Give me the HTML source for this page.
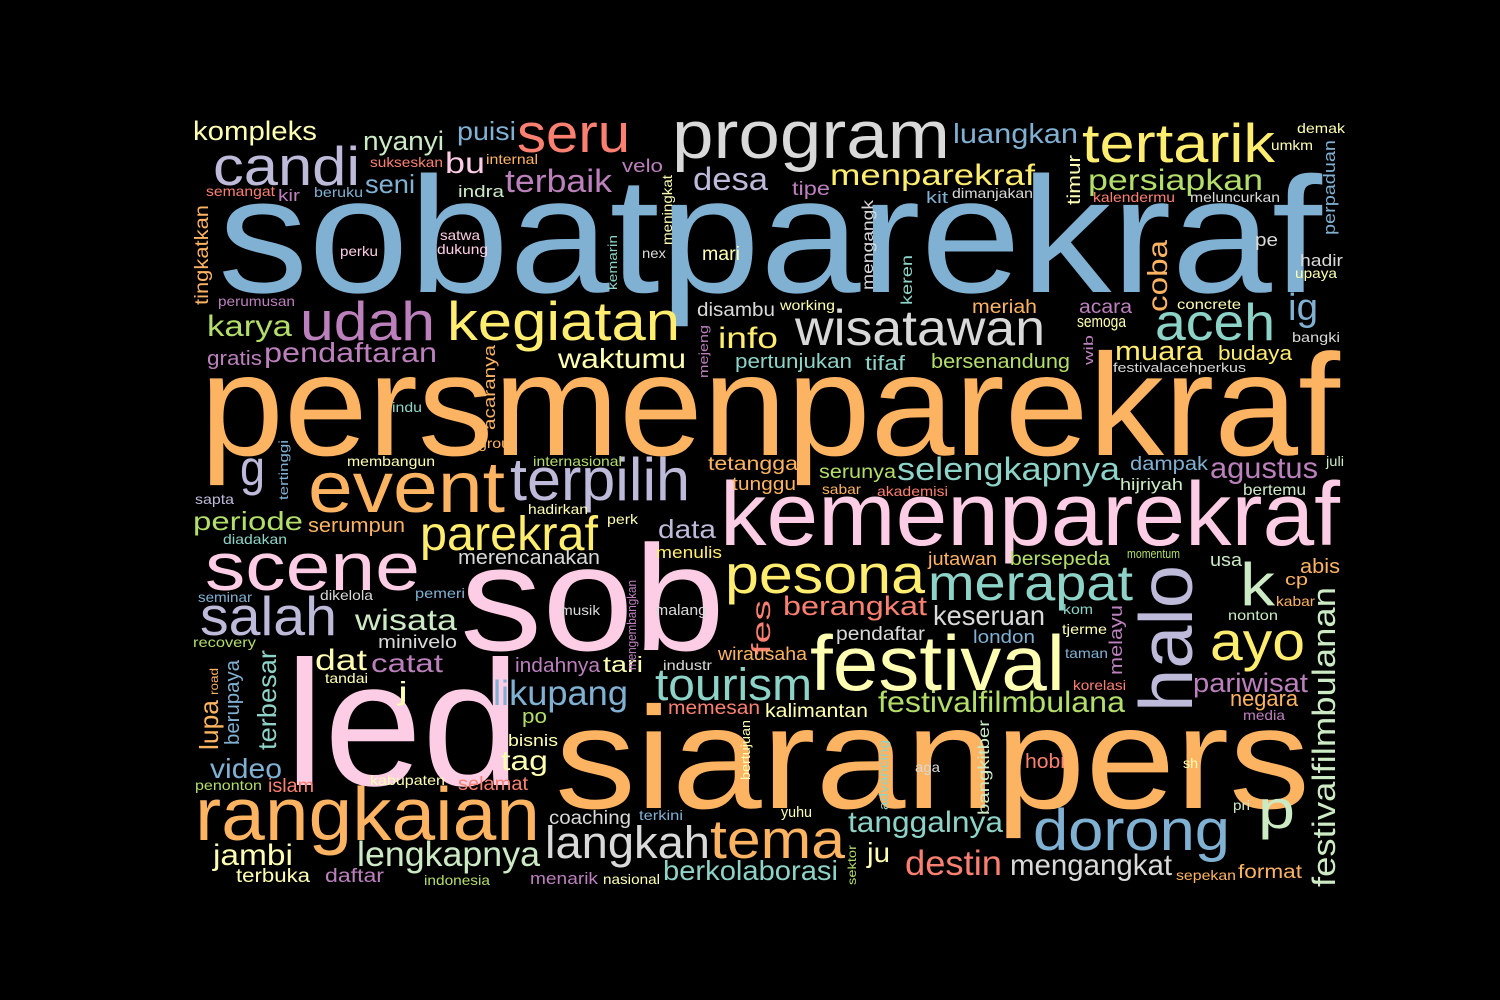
<!DOCTYPE html>
<html><head><meta charset="utf-8"><style>
html,body{margin:0;padding:0;background:#000;}
svg{display:block;}
text{font-family:"Liberation Sans",sans-serif;}
</style></head><body>
<svg id="cloud" width="1500" height="1000" viewBox="0 0 1500 1000" xmlns="http://www.w3.org/2000/svg">
<rect width="1500" height="1000" fill="#000"/>
</svg>
<script>
const C={B:"#80b1d3",O:"#fdb462",P:"#fccde5",U:"#bc80bd",Y:"#ffffb3",G:"#b3de69",T:"#8dd3c7",R:"#fb8072",L:"#bebada",W:"#d9d9d9",LG:"#ccebc5",GD:"#ffed6f"};
// [text, x, baseline y, font size, length, colour, rotated]
const words=[
["sobatparekraf",218,292,165,1104,"B",0],
["persmenparekraf",200,455,145,1140,"O",0],
["siaranpers",555,808,145,755,"O",0],
["led",285,785,178,235,"P",0],
["sob",460,650,150,265,"P",0],
["kemenparekraf",720,545,90,620,"P",0],
["festival",810,690,78,255,"Y",0],
["rangkaian",195,840,75,345,"O",0],
["program",672,158,68,278,"W",0],
["event",308,512,72,197,"O",0],
["terpilih",510,500,60,180,"L",0],
["scene",205,590,68,215,"P",0],
["halo",1192,712,75,147,"L",1],
["dorong",1033,850,58,197,"B",0],
["tertarik",1082,162,55,193,"GD",0],
["candi",213,185,55,147,"L",0],
["kegiatan",447,340,55,233,"GD",0],
["udah",300,340,55,135,"U",0],
["wisatawan",795,345,50,250,"W",0],
["aceh",1155,340,52,120,"T",0],
["seru",517,152,55,113,"R",0],
["merapat",928,600,50,205,"T",0],
["pesona",725,593,55,200,"GD",0],
["parekraf",420,550,48,178,"GD",0],
["salah",200,635,55,137,"L",0],
["tourism",655,700,45,157,"T",0],
["tema",710,858,55,135,"O",0],
["langkah",545,858,45,165,"W",0],
["lengkapnya",357,866,35,183,"LG",0],
["ayo",1210,660,55,95,"GD",0],
["k",1240,605,60,35,"LG",0],
["p",1258,828,55,37,"LG",0],
["festivalfilmbulanan",1335,887,32,300,"LG",1],
["g",240,485,50,25,"L",0],
["ig",1288,320,38,30,"B",0],
["coba",1167,312,28,72,"O",1],
["lupa",218,750,26,50,"O",1],
["terbesar",276,750,26,100,"T",1],
["berupaya",239,745,20,85,"B",1],
["likupang",493,705,35,135,"B",0],
["jambi",213,865,30,80,"Y",0],
["video",210,778,28,72,"B",0],
["destin",905,875,35,97,"R",0],
["mengangkat",1010,875,30,162,"W",0],
["berkolaborasi",663,880,28,175,"T",0],
["tanggalnya",848,832,30,155,"T",0],
["festivalfilmbulana",878,712,30,247,"G",0],
["keseruan",933,625,28,112,"W",0],
["selengkapnya",897,480,32,223,"T",0],
["agustus",1210,478,30,108,"U",0],
["pariwisat",1193,692,27,115,"U",0],
["negara",1230,706,22,68,"O",0],
["persiapkan",1088,190,30,175,"G",0],
["menparekraf",830,185,30,205,"GD",0],
["luangkan",953,143,28,125,"B",0],
["desa",693,190,32,75,"L",0],
["terbaik",505,192,32,107,"U",0],
["puisi",457,140,26,59,"B",0],
["nyanyi",363,150,27,81,"LG",0],
["kompleks",193,140,27,124,"Y",0],
["seni",365,193,26,50,"B",0],
["bu",445,173,30,40,"P",0],
["karya",207,336,30,85,"G",0],
["pendaftaran",264,362,28,173,"U",0],
["gratis",207,365,20,55,"U",0],
["waktumu",558,368,28,128,"Y",0],
["info",718,348,30,60,"GD",0],
["pertunjukan",735,368,20,117,"T",0],
["tifaf",865,370,20,40,"T",0],
["bersenandung",931,368,20,139,"G",0],
["muara",1115,360,27,88,"GD",0],
["budaya",1218,360,20,74,"GD",0],
["periode",193,530,26,110,"G",0],
["serumpun",308,532,20,97,"O",0],
["data",658,538,26,58,"L",0],
["menulis",656,558,17,66,"GD",0],
["merencanakan",458,564,20,142,"W",0],
["wisata",355,630,30,102,"LG",0],
["minivelo",378,648,18,79,"W",0],
["catat",371,672,26,72,"U",0],
["dat",315,670,30,52,"Y",0],
["tari",603,672,22,40,"Y",0],
["indahnya",515,672,20,85,"U",0],
["berangkat",783,615,27,144,"R",0],
["fes",770,655,26,55,"R",1],
["pendaftar",836,640,19,89,"W",0],
["wirausaha",718,660,18,89,"O",0],
["memesan",668,714,19,92,"R",0],
["kalimantan",765,717,19,103,"Y",0],
["tag",501,770,28,47,"Y",0],
["bisnis",508,746,17,50,"Y",0],
["po",522,723,20,25,"G",0],
["selamat",458,790,19,70,"R",0],
["j",398,700,26,10,"Y",0],
["islam",268,792,19,46,"R",0],
["penonton",195,790,14,67,"G",0],
["kabupaten",370,785,14,75,"Y",0],
["coaching",549,824,19,82,"W",0],
["terkini",639,820,14,44,"B",0],
["yuhu",781,817,15,31,"Y",0],
["ju",867,862,28,23,"Y",0],
["hobi",1025,768,20,40,"R",0],
["daftar",325,882,19,59,"U",0],
["terbuka",236,882,19,74,"Y",0],
["indonesia",424,885,14,66,"G",0],
["menarik",530,884,17,68,"U",0],
["nasional",603,884,14,57,"Y",0],
["sepekan",1176,880,14,60,"O",0],
["format",1238,878,19,64,"O",0],
["tetangga",708,470,19,90,"O",0],
["tunggu",732,490,18,64,"O",0],
["serunya",819,478,19,77,"G",0],
["sabar",822,494,14,39,"O",0],
["akademisi",877,496,14,71,"R",0],
["dampak",1130,470,19,78,"B",0],
["hijriyah",1120,490,17,63,"LG",0],
["bertemu",1243,495,16,63,"LG",0],
["juli",1326,466,14,18,"LG",0],
["jutawan",928,565,18,69,"O",0],
["bersepeda",1010,565,19,100,"G",0],
["momentum",1127,558,13,53,"G",0],
["usa",1210,566,18,32,"LG",0],
["abis",1300,573,20,40,"O",0],
["cp",1285,585,17,23,"O",0],
["kabar",1276,606,14,39,"O",0],
["nonton",1228,620,14,50,"LG",0],
["london",973,643,18,62,"B",0],
["kom",1063,614,14,30,"T",0],
["tjerme",1062,634,14,45,"Y",0],
["taman",1065,658,14,43,"B",0],
["korelasi",1073,690,14,53,"R",0],
["melayu",1122,675,18,70,"U",1],
["media",1243,720,14,42,"U",0],
["pri",1233,810,14,17,"LG",0],
["sh",1183,768,14,15,"Y",0],
["bangkitber",989,815,16,95,"LG",1],
["bertujuan",750,780,13,60,"Y",1],
["advancing",888,810,13,70,"T",1],
["sektor",856,885,12,40,"G",1],
["aga",915,772,14,25,"W",0],
["mengembangkan",636,670,13,90,"U",1],
["industr",663,670,14,49,"W",0],
["musik",560,615,14,40,"W",0],
["malang",655,615,15,52,"W",0],
["pemeri",415,598,14,50,"B",0],
["dikelola",320,600,14,53,"W",0],
["seminar",198,602,14,54,"B",0],
["recovery",193,647,14,63,"G",0],
["tandai",325,683,14,43,"Y",0],
["road",218,695,12,27,"O",1],
["diadakan",223,544,14,64,"T",0],
["hadirkan",528,514,14,60,"Y",0],
["perk",607,524,14,31,"Y",0],
["sapta",195,504,14,39,"L",0],
["tertinggi",288,500,13,60,"B",1],
["membangun",347,466,14,88,"Y",0],
["internasional",533,466,14,89,"G",0],
["grou",478,448,14,32,"O",0],
["acaranya",495,430,17,85,"O",1],
["indu",392,412,14,30,"T",0],
["mejeng",708,378,13,53,"U",1],
["disambu",697,316,19,78,"W",0],
["working",780,310,14,55,"Y",0],
["meriah",972,313,19,65,"O",0],
["acara",1079,313,19,53,"U",0],
["semoga",1077,327,17,49,"Y",0],
["concrete",1177,309,14,64,"Y",0],
["bangki",1292,342,14,48,"W",0],
["wib",1093,365,13,30,"U",1],
["festivalacehperkus",1113,372,13,133,"W",0],
["perumusan",218,306,14,77,"U",0],
["tingkatkan",208,305,19,100,"O",1],
["semangat",206,196,14,69,"R",0],
["kir",278,201,17,22,"U",0],
["beruku",314,197,14,49,"B",0],
["sukseskan",370,167,14,73,"R",0],
["internal",486,164,14,52,"O",0],
["indra",458,197,17,46,"LG",0],
["velo",622,172,18,41,"U",0],
["meningkat",672,245,14,70,"Y",1],
["tipe",792,195,19,38,"U",0],
["kit",926,203,17,22,"B",0],
["dimanjakan",952,198,14,81,"W",0],
["timur",1080,205,18,50,"Y",1],
["kalendermu",1093,202,14,82,"R",0],
["meluncurkan",1190,202,14,90,"W",0],
["demak",1297,133,14,48,"Y",0],
["umkm",1271,150,14,42,"Y",0],
["perpaduan",1335,235,17,95,"B",1],
["pe",1255,246,18,23,"W",0],
["hadir",1300,266,17,43,"W",0],
["upaya",1295,278,14,42,"Y",0],
["satwa",440,240,14,40,"P",0],
["dukung",437,254,14,51,"P",0],
["perku",340,256,14,38,"P",0],
["kemarin",617,290,13,55,"T",1],
["nex",642,258,14,24,"W",0],
["mari",702,260,19,38,"Y",0],
["mengangk",873,290,16,90,"W",1],
["keren",912,305,16,50,"T",1]
];
const svg=document.getElementById('cloud');
const NS="http://www.w3.org/2000/svg";
for(const w of words){
  const t=document.createElementNS(NS,'text');
  t.textContent=w[0];
  t.setAttribute('font-size',w[3]);
  t.setAttribute('fill',C[w[5]]);
  t.setAttribute('textLength',w[4]);
  t.setAttribute('lengthAdjust','spacingAndGlyphs');
  if(w[6]){
    t.setAttribute('transform','translate('+w[1]+','+w[2]+') rotate(-90)');
  }else{
    t.setAttribute('x',w[1]);
    t.setAttribute('y',w[2]);
  }
  
  
  svg.appendChild(t);
}
</script>
</body></html>
